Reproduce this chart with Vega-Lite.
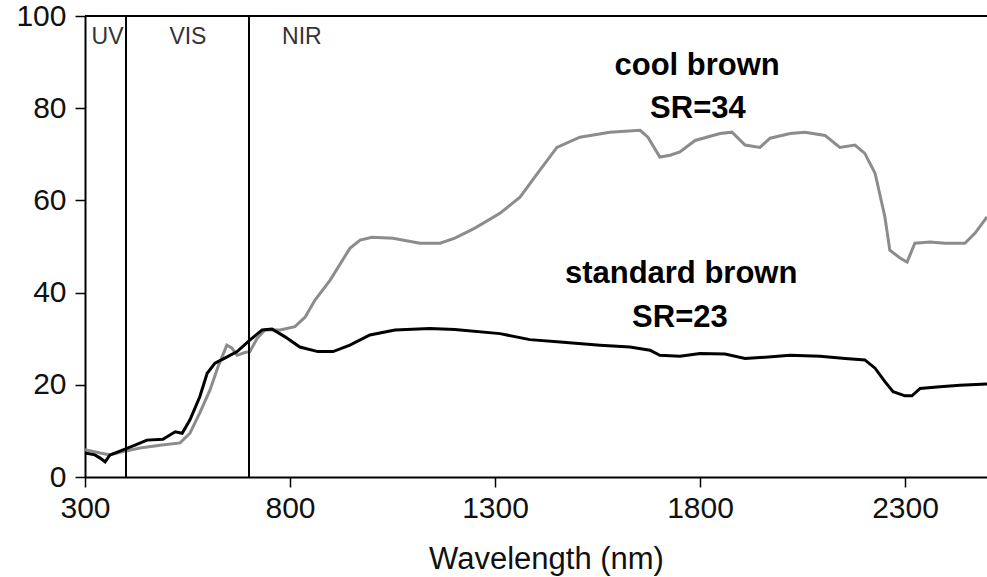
{
  "$schema": "https://vega.github.io/schema/vega-lite/v6.json",
  "autosize": {"type": "none"},
  "width": 902,
  "height": 461,
  "padding": {"left": 85, "top": 16, "right": 0, "bottom": 100},
  "background": "white",
  "config": {
    "view": {"stroke": null},
    "font": "Liberation Sans"
  },
  "datasets": {
    "spectra": [
      {"series": "cool brown", "wl": 300, "r": 5.9}, {"series": "cool brown", "wl": 337, "r": 5.2}, {"series": "cool brown", "wl": 361, "r": 4.8}, {"series": "cool brown", "wl": 393, "r": 5.5}, {"series": "cool brown", "wl": 434, "r": 6.3}, {"series": "cool brown", "wl": 483, "r": 6.9}, {"series": "cool brown", "wl": 532, "r": 7.4}, {"series": "cool brown", "wl": 556, "r": 9.5}, {"series": "cool brown", "wl": 580, "r": 13.9}, {"series": "cool brown", "wl": 605, "r": 18.9}, {"series": "cool brown", "wl": 624, "r": 23.8}, {"series": "cool brown", "wl": 646, "r": 28.6}, {"series": "cool brown", "wl": 658, "r": 28.0}, {"series": "cool brown", "wl": 671, "r": 26.4}, {"series": "cool brown", "wl": 690, "r": 27.0}, {"series": "cool brown", "wl": 702, "r": 27.2}, {"series": "cool brown", "wl": 720, "r": 30.1}, {"series": "cool brown", "wl": 739, "r": 31.9}, {"series": "cool brown", "wl": 776, "r": 31.9}, {"series": "cool brown", "wl": 812, "r": 32.6}, {"series": "cool brown", "wl": 837, "r": 34.7}, {"series": "cool brown", "wl": 861, "r": 38.4}, {"series": "cool brown", "wl": 898, "r": 42.7}, {"series": "cool brown", "wl": 946, "r": 49.6}, {"series": "cool brown", "wl": 971, "r": 51.4}, {"series": "cool brown", "wl": 1000, "r": 52.0}, {"series": "cool brown", "wl": 1051, "r": 51.8}, {"series": "cool brown", "wl": 1117, "r": 50.7}, {"series": "cool brown", "wl": 1166, "r": 50.7}, {"series": "cool brown", "wl": 1202, "r": 51.8}, {"series": "cool brown", "wl": 1251, "r": 54.0}, {"series": "cool brown", "wl": 1312, "r": 57.2}, {"series": "cool brown", "wl": 1361, "r": 60.7}, {"series": "cool brown", "wl": 1410, "r": 66.6}, {"series": "cool brown", "wl": 1451, "r": 71.5}, {"series": "cool brown", "wl": 1507, "r": 73.7}, {"series": "cool brown", "wl": 1580, "r": 74.8}, {"series": "cool brown", "wl": 1654, "r": 75.2}, {"series": "cool brown", "wl": 1673, "r": 73.7}, {"series": "cool brown", "wl": 1702, "r": 69.4}, {"series": "cool brown", "wl": 1727, "r": 69.8}, {"series": "cool brown", "wl": 1751, "r": 70.5}, {"series": "cool brown", "wl": 1788, "r": 73.0}, {"series": "cool brown", "wl": 1849, "r": 74.5}, {"series": "cool brown", "wl": 1878, "r": 74.8}, {"series": "cool brown", "wl": 1910, "r": 72.0}, {"series": "cool brown", "wl": 1946, "r": 71.5}, {"series": "cool brown", "wl": 1971, "r": 73.5}, {"series": "cool brown", "wl": 2020, "r": 74.5}, {"series": "cool brown", "wl": 2056, "r": 74.8}, {"series": "cool brown", "wl": 2105, "r": 74.1}, {"series": "cool brown", "wl": 2141, "r": 71.5}, {"series": "cool brown", "wl": 2178, "r": 72.0}, {"series": "cool brown", "wl": 2202, "r": 70.2}, {"series": "cool brown", "wl": 2227, "r": 65.9}, {"series": "cool brown", "wl": 2251, "r": 56.4}, {"series": "cool brown", "wl": 2263, "r": 49.2}, {"series": "cool brown", "wl": 2288, "r": 47.5}, {"series": "cool brown", "wl": 2305, "r": 46.6}, {"series": "cool brown", "wl": 2324, "r": 50.7}, {"series": "cool brown", "wl": 2361, "r": 51.0}, {"series": "cool brown", "wl": 2398, "r": 50.7}, {"series": "cool brown", "wl": 2446, "r": 50.7}, {"series": "cool brown", "wl": 2471, "r": 52.9}, {"series": "cool brown", "wl": 2500, "r": 56.4},
      {"series": "standard brown", "wl": 300, "r": 5.2}, {"series": "standard brown", "wl": 324, "r": 4.8}, {"series": "standard brown", "wl": 337, "r": 4.1}, {"series": "standard brown", "wl": 349, "r": 3.3}, {"series": "standard brown", "wl": 361, "r": 4.8}, {"series": "standard brown", "wl": 393, "r": 5.9}, {"series": "standard brown", "wl": 422, "r": 6.9}, {"series": "standard brown", "wl": 451, "r": 8.0}, {"series": "standard brown", "wl": 490, "r": 8.2}, {"series": "standard brown", "wl": 520, "r": 9.8}, {"series": "standard brown", "wl": 537, "r": 9.5}, {"series": "standard brown", "wl": 556, "r": 12.4}, {"series": "standard brown", "wl": 580, "r": 17.4}, {"series": "standard brown", "wl": 598, "r": 22.5}, {"series": "standard brown", "wl": 617, "r": 24.7}, {"series": "standard brown", "wl": 641, "r": 25.8}, {"series": "standard brown", "wl": 671, "r": 27.2}, {"series": "standard brown", "wl": 702, "r": 29.7}, {"series": "standard brown", "wl": 732, "r": 31.9}, {"series": "standard brown", "wl": 756, "r": 32.1}, {"series": "standard brown", "wl": 788, "r": 30.4}, {"series": "standard brown", "wl": 824, "r": 28.2}, {"series": "standard brown", "wl": 868, "r": 27.2}, {"series": "standard brown", "wl": 905, "r": 27.2}, {"series": "standard brown", "wl": 946, "r": 28.6}, {"series": "standard brown", "wl": 995, "r": 30.8}, {"series": "standard brown", "wl": 1056, "r": 31.9}, {"series": "standard brown", "wl": 1141, "r": 32.2}, {"series": "standard brown", "wl": 1202, "r": 32.0}, {"series": "standard brown", "wl": 1312, "r": 31.1}, {"series": "standard brown", "wl": 1385, "r": 29.8}, {"series": "standard brown", "wl": 1459, "r": 29.3}, {"series": "standard brown", "wl": 1556, "r": 28.6}, {"series": "standard brown", "wl": 1629, "r": 28.2}, {"series": "standard brown", "wl": 1678, "r": 27.5}, {"series": "standard brown", "wl": 1702, "r": 26.4}, {"series": "standard brown", "wl": 1751, "r": 26.2}, {"series": "standard brown", "wl": 1800, "r": 26.8}, {"series": "standard brown", "wl": 1861, "r": 26.7}, {"series": "standard brown", "wl": 1910, "r": 25.7}, {"series": "standard brown", "wl": 1946, "r": 25.9}, {"series": "standard brown", "wl": 2020, "r": 26.4}, {"series": "standard brown", "wl": 2093, "r": 26.2}, {"series": "standard brown", "wl": 2154, "r": 25.7}, {"series": "standard brown", "wl": 2202, "r": 25.4}, {"series": "standard brown", "wl": 2227, "r": 23.6}, {"series": "standard brown", "wl": 2251, "r": 20.7}, {"series": "standard brown", "wl": 2271, "r": 18.5}, {"series": "standard brown", "wl": 2300, "r": 17.6}, {"series": "standard brown", "wl": 2317, "r": 17.6}, {"series": "standard brown", "wl": 2337, "r": 19.2}, {"series": "standard brown", "wl": 2385, "r": 19.6}, {"series": "standard brown", "wl": 2434, "r": 19.9}, {"series": "standard brown", "wl": 2500, "r": 20.2}
    ],
    "bounds": [{"wl": 400}, {"wl": 700}],
    "top": [{"r": 100}],
    "regions": [
      {"label": "UV", "wl": 355, "r": 93.9},
      {"label": "VIS", "wl": 551, "r": 93.9},
      {"label": "NIR", "wl": 829, "r": 93.9}
    ],
    "notes": [
      {"label": "cool brown", "wl": 1793, "r": 87.1},
      {"label": "SR=34", "wl": 1795, "r": 77.8},
      {"label": "standard brown", "wl": 1754, "r": 42.1},
      {"label": "SR=23", "wl": 1751, "r": 32.5}
    ]
  },
  "layer": [
    {
      "data": {"name": "spectra"},
      "mark": {"type": "line", "strokeWidth": 3, "clip": true, "interpolate": "linear"},
      "encoding": {
        "x": {"field": "wl", "type": "quantitative", "scale": {"domain": [300, 2500], "nice": false, "zero": false},
              "axis": {"values": [300, 800, 1300, 1800, 2300], "format": "d", "title": "Wavelength (nm)", "titleFontSize": 31, "titleFontWeight": "normal", "titleColor": "#111", "titlePadding": 21, "titleX": 461, "labelPadding": 6, "labelFlush": false, "labelFontSize": 30, "labelColor": "#111", "grid": false, "domainColor": "#000", "domainWidth": 2, "tickColor": "#000", "tickWidth": 1.5, "tickSize": 10}},
        "y": {"field": "r", "type": "quantitative", "scale": {"domain": [0, 100], "nice": false},
              "axis": {"values": [0, 20, 40, 60, 80, 100], "title": null, "labelPadding": 9, "labelFontSize": 30, "labelColor": "#111", "grid": false, "domainColor": "#000", "domainWidth": 2, "tickColor": "#000", "tickWidth": 1.5, "tickSize": 10}},
        "color": {"field": "series", "type": "nominal", "scale": {"domain": ["cool brown", "standard brown"], "range": ["#8c8c8c", "#000000"]}, "legend": null},
        "detail": {"field": "series"}
      }
    },
    {
      "data": {"name": "bounds"},
      "mark": {"type": "rule", "color": "#000", "strokeWidth": 2},
      "encoding": {"x": {"field": "wl", "type": "quantitative"}}
    },
    {
      "data": {"name": "top"},
      "mark": {"type": "rule", "color": "#000", "strokeWidth": 2},
      "encoding": {"y": {"field": "r", "type": "quantitative"}}
    },
    {
      "data": {"name": "regions"},
      "mark": {"type": "text", "fontSize": 23, "color": "#333", "baseline": "alphabetic", "align": "center"},
      "encoding": {
        "x": {"field": "wl", "type": "quantitative"},
        "y": {"field": "r", "type": "quantitative"},
        "text": {"field": "label"}
      }
    },
    {
      "data": {"name": "notes"},
      "mark": {"type": "text", "fontSize": 31, "fontWeight": "bold", "color": "#000", "baseline": "alphabetic", "align": "center"},
      "encoding": {
        "x": {"field": "wl", "type": "quantitative"},
        "y": {"field": "r", "type": "quantitative"},
        "text": {"field": "label"}
      }
    }
  ]
}
